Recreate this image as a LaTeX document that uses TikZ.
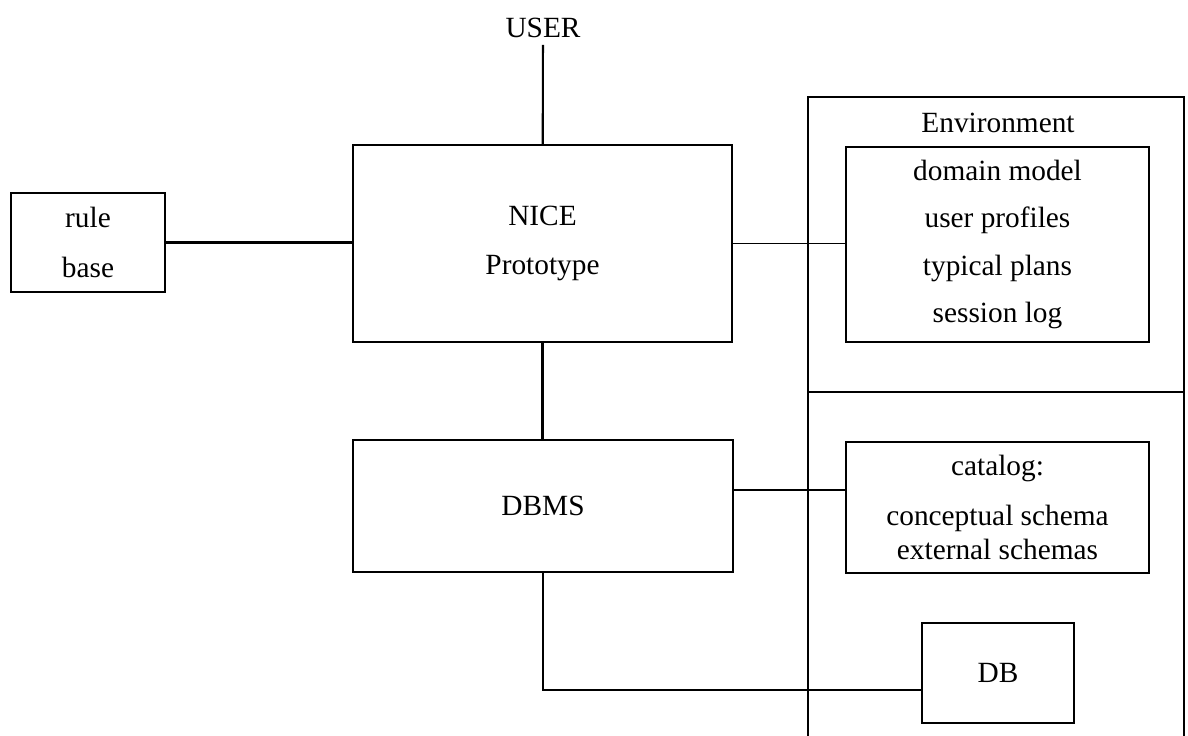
\documentclass[tikz,border=0pt]{standalone}
\usepackage{amsmath, tikz, fontspec}
\setmainfont{Liberation Serif}

\begin{document}
\begin{tikzpicture}[x=0.02cm, y=-0.02cm, line width=1.2pt,
    box/.style={draw, inner sep=0pt, align=center, font=\fontsize{16.7}{19.5}\selectfont},
    lbl/.style={font=\fontsize{16.7}{19.5}\selectfont},
    thinline/.style={line width=0.8pt}]
    \useasboundingbox (0,0) rectangle (1188,736);
    \node[lbl] (U) at (543,28) {USER};
    \node[box, minimum width=3.08cm, minimum height=1.98cm] (R) at (88,242.5) {rule\\[9pt]base};
    \node[box, minimum width=7.58cm, minimum height=3.94cm] (N) at (542.5,243.5) {NICE\\[8pt]Prototype};
    \node[box, minimum width=7.6cm, minimum height=2.64cm] (D) at (543,506) {DBMS};
    \draw (808,736) -- (808,97) -- (1184,97) -- (1184,736);
    \draw (808,392) -- (1184,392);
    \node[lbl] (E) at (998,123) {Environment};
    \node[box, minimum width=6.06cm, minimum height=3.9cm] (M) at (997.5,244.5)
        {domain model\\[7.5pt]user profiles\\[7.5pt]typical plans\\[7.5pt]session log};
    \node[box, minimum width=6.06cm, minimum height=2.62cm] (C) at (997.5,507.5)
        {catalog:\\[9pt]conceptual schema\\external schemas};
    \node[box, minimum width=3.04cm, minimum height=2cm] (B) at (998,673) {DB};
    \draw (U) -- (N);
    \draw (R.east) -- (R.east -| N.west);
    \draw[thinline] (N.east) -- (N.east -| M.west);
    \draw (N.south) -- (N.south |- D.north);
    \draw[thinline] ([yshift=0.32cm]D.east) -- ([yshift=0.32cm]D.east -| C.west);
    \draw (D.south) |- ([yshift=-0.34cm]B.west);
\end{tikzpicture}
\end{document}
